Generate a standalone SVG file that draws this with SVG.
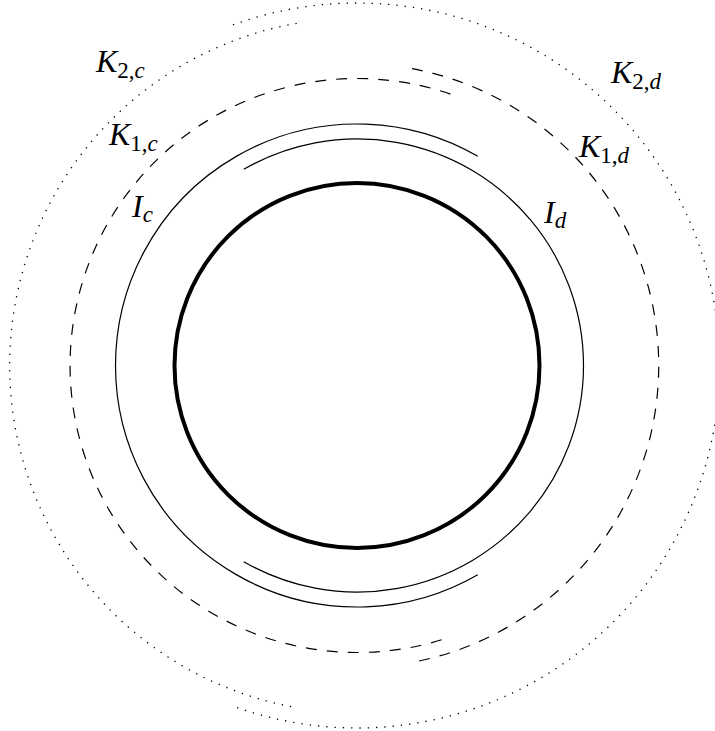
<svg xmlns="http://www.w3.org/2000/svg" width="715" height="731" viewBox="0 0 715 731">
<style>
.thin{fill:none;stroke:#000;stroke-width:1.2}
.dash{fill:none;stroke:#000;stroke-width:1.2;stroke-dasharray:11 10}
.dot{fill:none;stroke:#000;stroke-width:1.3;stroke-dasharray:1.3 7}
.thick{fill:none;stroke:#000;stroke-width:4}
.lbl{font-family:"Liberation Serif","Times New Roman",serif;font-size:32px;font-style:italic;fill:#000}
.sub{font-size:23px}
.up{font-style:normal}
</style>
<rect width="715" height="731" fill="#fff"/>
<g id="core"><circle class="thick" cx="357" cy="365.5" r="182.5"/></g>
<g id="connectors">
<path id="Ic" class="thin" d="M 477.75 156.35 A 241.5 241.5 0 1 0 477.75 574.65"/>
<path id="Id" class="thin" d="M 243.75 169.35 A 226.5 226.5 0 1 1 243.75 561.65"/>
<path id="K1c" class="dash" d="M 450.4 94.1 A 287 287 0 1 0 450.4 636.9"/>
<path id="K1d" class="dash" d="M 412 68.6 A 302 302 0 0 1 412 662.4"/>
<path id="K2c" class="dot" d="M 296.7 23.3 A 347.5 347.5 0 0 0 296.7 707.7"/>
<path id="K2d" class="dot" d="M 233 24.9 A 362.5 362.5 0 1 1 233 706.1"/>
</g>
<g id="label-K2c"><text class="lbl" x="96" y="72">K<tspan class="sub up" dy="6">2,</tspan><tspan class="sub">c</tspan></text></g>
<g id="label-K1c"><text class="lbl" x="109" y="145">K<tspan class="sub up" dy="6">1,</tspan><tspan class="sub">c</tspan></text></g>
<g id="label-Ic"><text class="lbl" x="132" y="217">I<tspan class="sub" dy="5">c</tspan></text></g>
<g id="label-K2d"><text class="lbl" x="611" y="83">K<tspan class="sub up" dy="6">2,</tspan><tspan class="sub">d</tspan></text></g>
<g id="label-K1d"><text class="lbl" x="579" y="157">K<tspan class="sub up" dy="6">1,</tspan><tspan class="sub">d</tspan></text></g>
<g id="label-Id"><text class="lbl" x="544" y="223">I<tspan class="sub" dy="5">d</tspan></text></g>
</svg>
